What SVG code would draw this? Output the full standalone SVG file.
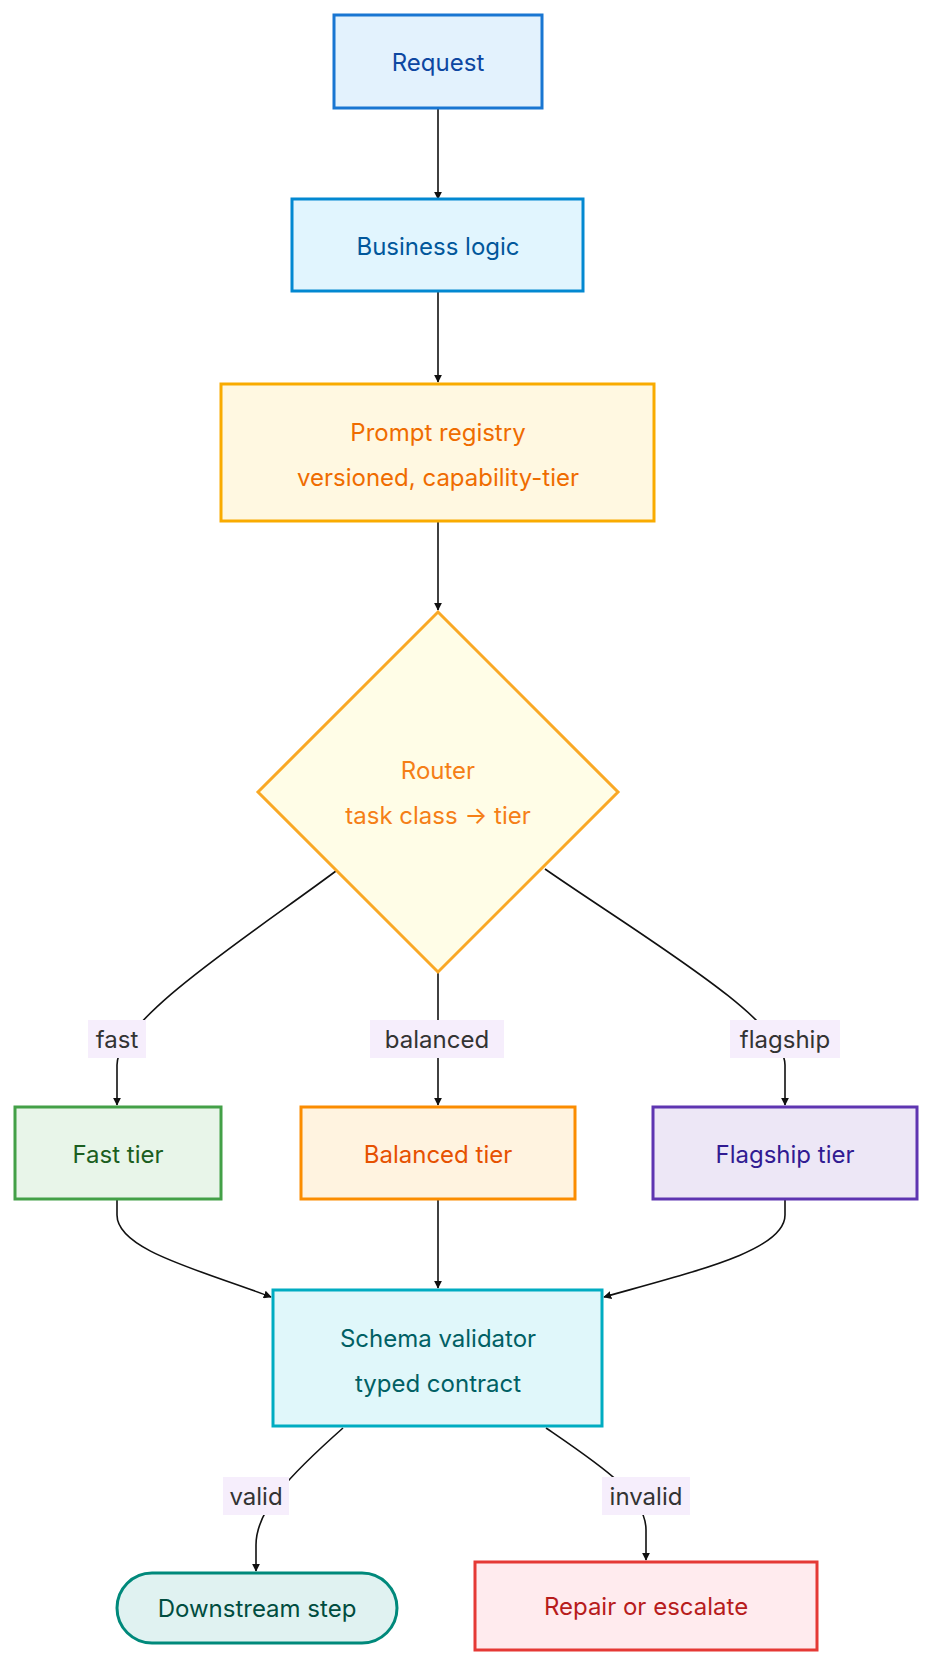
<svg xmlns="http://www.w3.org/2000/svg" width="938" height="1680" viewBox="0 0 938 1680">
<style>
text{font-family:Inter,"Noto Sans","Liberation Sans",sans-serif;font-size:24px;text-anchor:middle;dominant-baseline:central}
.n{stroke-width:3}
.e{fill:none;stroke:#111;stroke-width:1.6}
.lb{fill:#f6eefc}
.lt{fill:#333}
</style>
<defs><marker id="a" viewBox="0 0 10 10" refX="9" refY="5" markerWidth="8" markerHeight="8" orient="auto" markerUnits="userSpaceOnUse"><path d="M0,0L10,5L0,10z" fill="#111"/></marker></defs>
<g id="edges">
<path class="e" d="M438,108V199" marker-end="url(#a)"/>
<path class="e" d="M438,291V382" marker-end="url(#a)"/>
<path class="e" d="M438,521V610" marker-end="url(#a)"/>
<path class="e" d="M336,871C250,935 117,1020 117,1065L117,1105" marker-end="url(#a)"/>
<path class="e" d="M438,972V1105" marker-end="url(#a)"/>
<path class="e" d="M545,869C640,935 785,1020 785,1065L785,1105" marker-end="url(#a)"/>
<path class="e" d="M117,1199L117,1215C117,1250 200,1270 271,1297" marker-end="url(#a)"/>
<path class="e" d="M438,1199V1288" marker-end="url(#a)"/>
<path class="e" d="M785,1199L785,1215C785,1250 700,1270 604,1297" marker-end="url(#a)"/>
<path class="e" d="M343,1428C290,1475 256,1510 256,1545L256,1571" marker-end="url(#a)"/>
<path class="e" d="M546,1428C600,1465 646,1495 646,1530L646,1560" marker-end="url(#a)"/>
<rect class="lb" x="88" y="1020" width="58" height="38"/><text class="lt" x="117" y="1039">fast</text>
<rect class="lb" x="370" y="1020" width="134" height="38"/><text class="lt" x="437" y="1039">balanced</text>
<rect class="lb" x="730" y="1020" width="110" height="38"/><text class="lt" x="785" y="1039">flagship</text>
<rect class="lb" x="223" y="1477" width="66" height="38"/><text class="lt" x="256" y="1496">valid</text>
<rect class="lb" x="602" y="1477" width="88" height="38"/><text class="lt" x="646" y="1496">invalid</text>
</g>
<g id="request"><rect class="n" x="334" y="15" width="208" height="93" fill="#e3f2fd" stroke="#1976d2"/><text x="438" y="62" fill="#0d47a1">Request</text></g>
<g id="business"><rect class="n" x="292" y="199" width="291" height="92" fill="#e1f5fe" stroke="#0288d1"/><text x="438" y="246" fill="#01579b">Business logic</text></g>
<g id="prompt"><rect class="n" x="221" y="384" width="433" height="137" fill="#fff8e1" stroke="#f9ab00"/><text x="438" y="432" fill="#ef6c00">Prompt registry</text><text x="438" y="477" fill="#ef6c00">versioned, capability-tier</text></g>
<g id="router"><path class="n" d="M438,612L618,792L438,972L258,792Z" fill="#fffde7" stroke="#f9a825"/><text x="438" y="770" fill="#f57f17">Router</text><text x="438" y="815" fill="#f57f17">task class → tier</text></g>
<g id="fast"><rect class="n" x="15" y="1107" width="206" height="92" fill="#e8f5e9" stroke="#43a047"/><text x="118" y="1154" fill="#1b5e20">Fast tier</text></g>
<g id="balanced"><rect class="n" x="301" y="1107" width="274" height="92" fill="#fff3e0" stroke="#fb8c00"/><text x="438" y="1154" fill="#e65100">Balanced tier</text></g>
<g id="flagship"><rect class="n" x="653" y="1107" width="264" height="92" fill="#ede7f6" stroke="#5e35b1"/><text x="785" y="1154" fill="#311b92">Flagship tier</text></g>
<g id="schema"><rect class="n" x="273" y="1290" width="329" height="136" fill="#e0f7fa" stroke="#00acc1"/><text x="438" y="1338" fill="#006064">Schema validator</text><text x="438" y="1383" fill="#006064">typed contract</text></g>
<g id="downstream"><rect class="n" x="117" y="1573" width="280" height="70" rx="35" fill="#e0f2f1" stroke="#00897b"/><text x="257" y="1608" fill="#004d40">Downstream step</text></g>
<g id="repair"><rect class="n" x="475" y="1562" width="342" height="88" fill="#ffebee" stroke="#e53935"/><text x="646" y="1606" fill="#b71c1c">Repair or escalate</text></g>
</svg>
